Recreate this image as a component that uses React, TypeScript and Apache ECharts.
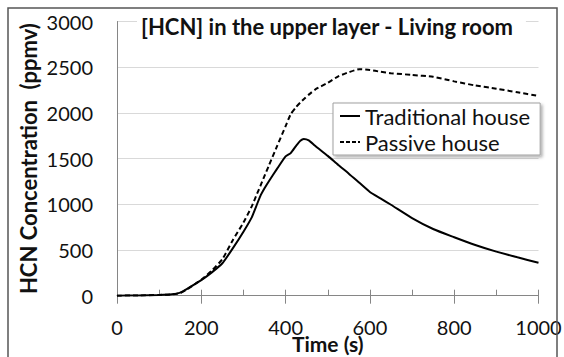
import React, { useEffect, useRef } from "react";
import * as echarts from "echarts";

const times = [0, 50, 100, 130, 150, 170, 200, 225, 250, 275, 300, 320, 330, 340, 350, 360, 380, 400, 412, 425, 435, 443, 455, 470, 500, 525, 550, 575, 600, 625, 650, 700, 750, 800, 850, 900, 950, 1000];
const traditional = [0, 3, 8, 15, 33, 85, 170, 255, 355, 520, 700, 860, 975, 1090, 1175, 1250, 1390, 1525, 1560, 1640, 1695, 1715, 1700, 1640, 1530, 1430, 1335, 1235, 1135, 1065, 995, 850, 730, 640, 555, 482, 420, 360];
const passive = [0, 3, 8, 15, 30, 80, 175, 275, 400, 610, 800, 980, 1090, 1200, 1310, 1420, 1640, 1855, 1985, 2065, 2115, 2150, 2200, 2255, 2330, 2400, 2445, 2478, 2470, 2450, 2435, 2415, 2395, 2345, 2300, 2265, 2225, 2185];
const seriesNames = ["Traditional house", "Passive house"];
const titleText = "[HCN] in the upper layer - Living room";
const yName = "HCN Concentration  (ppmv)";
const xName = "Time (s)";

const FONT = "Lato";

export default function App() {
  const ref = useRef<HTMLDivElement>(null);
  useEffect(() => {
    if (!ref.current) return;
    const chart = echarts.init(ref.current, null, { renderer: "svg" });
    const toPairs = (vals: number[]) => times.map((t, i) => [t, vals[i]]);
    chart.setOption({
      animation: false,
      backgroundColor: "#fff",
      textStyle: { fontFamily: FONT },
      title: {
        text: titleText,
        left: 137,
        top: 12,
        padding: [3, 12, 3, 4],
        backgroundColor: "#fff",
        textStyle: { fontFamily: FONT, fontSize: 22, fontWeight: "bold", color: "#111" },
      },
      grid: {
        left: 117,
        right: 25.5,
        top: 21.5,
        bottom: 61.3,
        containLabel: false,
        outerBoundsMode: "none",
      },
      legend: {
        orient: "vertical",
        left: 333,
        top: 103,
        padding: [2, 10, 2, 7],
        itemGap: 4,
        itemWidth: 20,
        itemHeight: 2,
        backgroundColor: "#fff",
        borderColor: "#a0a0a0",
        borderWidth: 1,
        shadowColor: "rgba(0,0,0,0.3)",
        shadowBlur: 3,
        shadowOffsetX: 2,
        shadowOffsetY: 2,
        textStyle: { fontFamily: FONT, fontSize: 22, color: "#111", lineHeight: 22 },
        itemStyle: { color: "#000" },
        data: [
          { name: seriesNames[0], icon: "path://M0,0H20V2H0Z" },
          { name: seriesNames[1], icon: "path://M0,0H4V2H0ZM6,0H10V2H6ZM12,0H16V2H12ZM18,0H20V2H18Z" },
        ],
      },
      xAxis: [
        {
          type: "value",
          min: 0,
          max: 1000,
          interval: 100,
          axisLine: { show: true, lineStyle: { color: "#868686", width: 1 } },
          axisTick: { show: true, inside: true, length: 6, lineStyle: { color: "#868686" } },
          axisLabel: {
            margin: 22,
            fontFamily: FONT,
            fontSize: 20,
            lineHeight: 18,
            color: "#111",
            formatter: (v: number) => (v % 200 === 0 ? String(v) : ""),
          },
          splitLine: { show: false },
          name: xName,
          nameLocation: "middle",
          nameGap: 39,
          nameMoveOverlap: false,
          nameTextStyle: { fontFamily: FONT, fontSize: 21, fontWeight: "bold", color: "#111", lineHeight: 18 },
        },
        {
          type: "value",
          min: 0,
          max: 1000,
          interval: 200,
          position: "bottom",
          axisLine: { show: false },
          axisTick: { show: true, inside: false, length: 8, lineStyle: { color: "#868686" } },
          axisLabel: { show: false },
          splitLine: { show: false },
        },
      ],
      yAxis: {
        type: "value",
        min: 0,
        max: 3000,
        interval: 500,
        axisLine: { show: true, lineStyle: { color: "#868686", width: 1 } },
        axisTick: { show: false },
        axisLabel: {
          margin: 24,
          fontFamily: FONT,
          fontSize: 20,
          color: "#111",
          formatter: (v: number) => String(v),
        },
        splitLine: { show: true, lineStyle: { color: "#d9d9d9", width: 1 } },
        name: yName,
        nameLocation: "middle",
        nameGap: 78,
        nameMoveOverlap: false,
        nameTextStyle: { fontFamily: FONT, fontSize: 22, fontWeight: "bold", color: "#111" },
      },
      graphic: [
        {
          type: "rect",
          shape: { x: 8, y: 8, width: 549, height: 370 },
          style: { fill: "none", stroke: "#555", lineWidth: 1.5 },
          silent: true,
          z: 100,
        },
      ],
      series: [
        {
          name: seriesNames[0],
          type: "line",
          data: toPairs(traditional),
          showSymbol: false,
          symbol: "none",
          smooth: 0.2,
          lineStyle: { color: "#000", width: 2, type: "solid" },
          itemStyle: { color: "#000" },
          z: 3,
        },
        {
          name: seriesNames[1],
          type: "line",
          data: toPairs(passive),
          showSymbol: false,
          symbol: "none",
          smooth: 0.2,
          lineStyle: { color: "#000", width: 2, type: [5, 3] },
          itemStyle: { color: "#000" },
          z: 2,
        },
      ],
    });
    return () => chart.dispose();
  }, []);
  return <div ref={ref} style={{ position: "fixed", left: 0, top: 0, width: 564, height: 357 }} />;
}
